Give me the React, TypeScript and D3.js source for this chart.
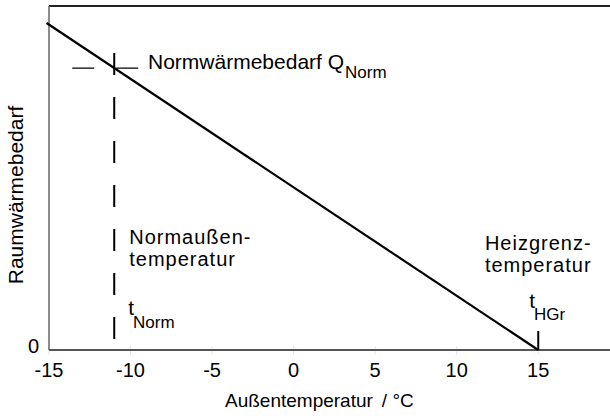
import React from "react";
import * as d3 from "d3";

const xTicks = [-15, -10, -5, 0, 5, 10, 15];
const yTicks = [0];
const tNorm = -11;
const tHGr = 15;
const tStart = -15.15;
const lineTemps = [tStart, tHGr];
const qAt = (t: number) => (tHGr - t) / (tHGr - tNorm);
const xTitle = "Außentemperatur";
const xUnit = "/ °C";
const yTitle = "Raumwärmebedarf";
const normLabel = ["Normaußen-", "temperatur"];
const hgrLabel = ["Heizgrenz-", "temperatur"];

const W = 610;
const H = 416;
const FONT = "'Liberation Sans', Arial, Helvetica, sans-serif";

export default function App() {
  const x = d3.scaleLinear().domain([-15, 19.4]).range([49, 610]);
  const y = d3.scaleLinear().domain([0, 1.22]).range([350, 6]);
  const line = d3
    .line<number>()
    .x((t) => x(t))
    .y((t) => y(qAt(t)));

  const cx = x(tNorm);
  const cy = y(qAt(tNorm));
  const hx = x(tHGr);

  return (
    <svg
      width={W}
      height={H}
      style={{ position: "absolute", left: 0, top: 0, background: "#fff" }}
      fontFamily={FONT}
    >
      <rect x={0} y={0} width={W} height={H} fill="#fff" />
      {xTicks.map((t) => (
        <line key={"tk" + t} x1={x(t)} x2={x(t)} y1={y(0) - 4} y2={y(0) + 5} stroke="#e4e4e4" strokeWidth={1} />
      ))}
      <line x1={x(-15)} x2={W + 2} y1={y(1.22)} y2={y(1.22)} stroke="#222" strokeWidth={2} />
      <line x1={x(-15)} x2={x(-15)} y1={y(1.22)} y2={y(0)} stroke="#666" strokeWidth={1.5} />
      <line x1={x(-15)} x2={W + 2} y1={y(0)} y2={y(0)} stroke="#555" strokeWidth={2} />

      <line x1={cx} x2={cx} y1={cy - 15} y2={y(0) - 11} stroke="#000" strokeWidth={2} strokeDasharray="22,22" />
      <line x1={cx + 24} x2={cx - 42} y1={cy} y2={cy} stroke="#000" strokeWidth={1.2} strokeDasharray="22,22" />

      <line x1={hx} x2={hx} y1={y(0) - 19} y2={y(0)} stroke="#000" strokeWidth={2} />

      <path d={line(lineTemps) || ""} fill="none" stroke="#000" strokeWidth={2.2} />

      {xTicks.map((t) => (
        <text key={"tl" + t} x={x(t)} y={377} fontSize={20} textAnchor="middle" fill="#000">
          {t}
        </text>
      ))}
      {yTicks.map((v) => (
        <text key={"yl" + v} x={39} y={y(v) + 3} fontSize={20} textAnchor="end" fill="#000">
          {v}
        </text>
      ))}

      <text x={225} y={407} fontSize={19} fill="#000">
        {xTitle}
        <tspan dx={9}>{xUnit}</tspan>
      </text>
      <text transform={`translate(23, 195) rotate(-90)`} fontSize={21} textAnchor="middle" fill="#000">
        {yTitle}
      </text>

      <text x={148} y={69} fontSize={21} fill="#000">
        Normwärmebedarf Q
        <tspan dx={1} dy={9} fontSize={17}>Norm</tspan>
      </text>
      <text x={cx + 15} y={244} fontSize={20} letterSpacing={1} fill="#000">
        {normLabel[0]}
      </text>
      <text x={cx + 15} y={266} fontSize={20} letterSpacing={1} fill="#000">
        {normLabel[1]}
      </text>
      <text x={cx + 14} y={315} fontSize={21} fill="#000">
        t<tspan dx={-1} dy={13} fontSize={17}>Norm</tspan>
      </text>
      <text x={hx} y={250} fontSize={20} letterSpacing={1} textAnchor="middle" fill="#000">
        {hgrLabel[0]}
      </text>
      <text x={hx} y={272} fontSize={20} letterSpacing={1} textAnchor="middle" fill="#000">
        {hgrLabel[1]}
      </text>
      <text x={hx - 9} y={308} fontSize={21} fill="#000">
        t<tspan dx={-1} dy={12} fontSize={17}>HGr</tspan>
      </text>
    </svg>
  );
}
